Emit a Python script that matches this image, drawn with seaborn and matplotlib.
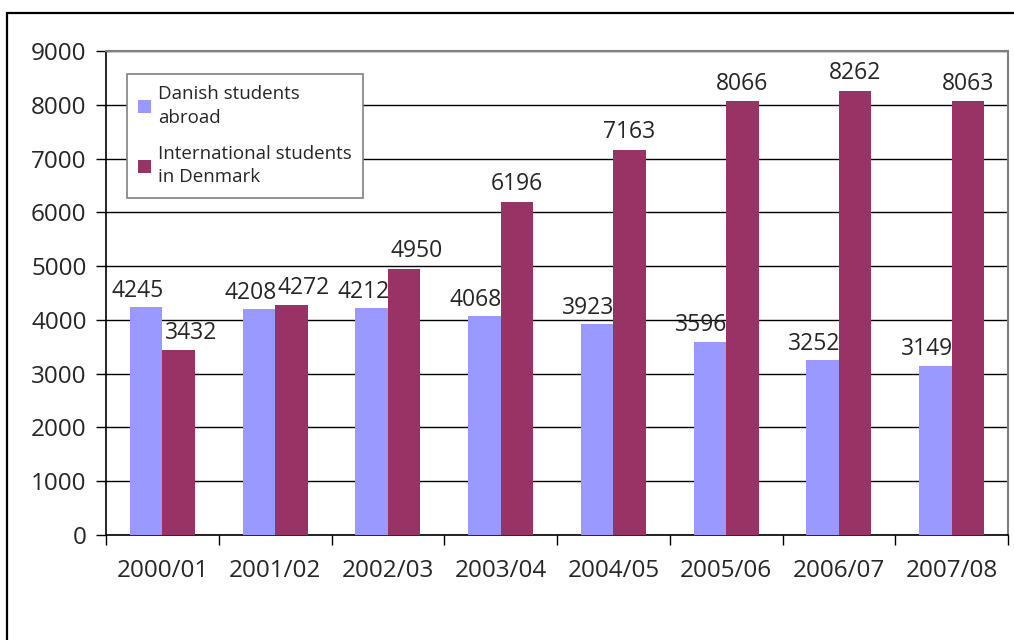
import pandas as pd
import matplotlib
matplotlib.use("Agg")
import matplotlib.pyplot as plt
import seaborn as sns
from matplotlib.patches import Rectangle, Patch
from matplotlib.ticker import FixedLocator, NullFormatter

# data
years = ["2000/01", "2001/02", "2002/03", "2003/04",
         "2004/05", "2005/06", "2006/07", "2007/08"]
danish_abroad = [4245, 4208, 4212, 4068, 3923, 3596, 3252, 3149]
intl_in_denmark = [3432, 4272, 4950, 6196, 7163, 8066, 8262, 8063]
series_names = ["Danish students\nabroad", "International students\nin Denmark"]
colors = ["#9999FF", "#993366"]

df = pd.DataFrame({
    "year": years * 2,
    "students": danish_abroad + intl_in_denmark,
    "group": [series_names[0]] * len(years) + [series_names[1]] * len(years),
})

sns.set_style("white")
plt.rcParams["font.family"] = ["Open Sans", "DejaVu Sans"]

fig = plt.figure(figsize=(10.14, 6.4), dpi=100)
ax = fig.add_axes([106 / 1014, 1 - 535 / 640, 902 / 1014, 484 / 640])

sns.barplot(data=df, x="year", y="students", hue="group", order=years,
            hue_order=series_names, palette=colors, width=0.576,
            saturation=1, linewidth=0, legend=False, ax=ax, zorder=3)

ax.set_xlim(-0.5, len(years) - 0.5)
ax.set_ylim(0, 9000)
ax.set_yticks(range(0, 9001, 1000))
ax.yaxis.grid(True, color="black", linewidth=1, zorder=0)
ax.set_axisbelow(True)
ax.set_xlabel("")
ax.set_ylabel("")

# ticks between categories, labels centred
ax.xaxis.set_major_locator(FixedLocator([i - 0.5 for i in range(len(years) + 1)]))
ax.xaxis.set_major_formatter(NullFormatter())
ax.xaxis.set_minor_locator(FixedLocator(range(len(years))))
ax.set_xticklabels(years, minor=True)
ax.tick_params(axis="x", which="major", direction="out", length=7, width=1,
               color="black", bottom=True)
ax.tick_params(axis="x", which="minor", length=0, pad=17, labelsize=17.5)
ax.tick_params(axis="y", direction="out", length=7, width=1, color="black",
               left=True, labelsize=17.5, pad=7)

for side in ["left", "bottom"]:
    ax.spines[side].set_color("black")
    ax.spines[side].set_linewidth(1.2)
for side in ["top", "right"]:
    ax.spines[side].set_visible(True)
    ax.spines[side].set_color("#808080")
    ax.spines[side].set_linewidth(1.5)

# value labels
danish_bars, intl_bars = ax.containers[0], ax.containers[1]
for i, (b_d, b_i) in enumerate(zip(danish_bars, intl_bars)):
    ax.annotate(f"{danish_abroad[i]}", (b_d.get_x() + b_d.get_width(), b_d.get_height()),
                xytext=(1, 3), textcoords="offset points", ha="right", va="bottom",
                fontsize=16.5, zorder=5)
    if abs(intl_in_denmark[i] - danish_abroad[i]) < 1000:
        xy, ha = (b_i.get_x(), b_i.get_height()), "left"
        dx = 2
    else:
        xy, ha = (b_i.get_x() + b_i.get_width() / 2, b_i.get_height()), "center"
        dx = 0
    ax.annotate(f"{intl_in_denmark[i]}", xy, xytext=(dx, 4), textcoords="offset points",
                ha=ha, va="bottom", fontsize=16.5, zorder=5)

handles = [Patch(facecolor=c, edgecolor="none") for c in colors]
leg = ax.legend(handles, series_names, loc="upper left",
                bbox_to_anchor=(0.023, 0.952), fontsize=13.5, frameon=True,
                fancybox=False, edgecolor="#808080", framealpha=1,
                handlelength=0.7, handleheight=0.7, handletextpad=0.35,
                labelspacing=0.95, borderpad=0.6, borderaxespad=0)
leg.get_frame().set_linewidth(1.2)
for t in leg.get_texts():
    t.set_linespacing(1.4)

# outer chart frame (cropped on the right and bottom)
fig.patches.append(Rectangle((7 / 1014, -0.1), 1.2, 1 - 13 / 640 + 0.1,
                             transform=fig.transFigure, fill=False,
                             edgecolor="black", linewidth=1.6))

fig.savefig("out.png", dpi=100, facecolor="white")
